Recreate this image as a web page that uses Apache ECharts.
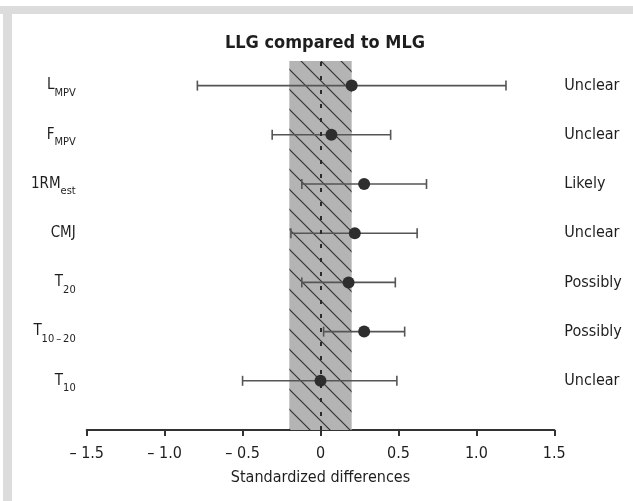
<!DOCTYPE html>
<html>
<head>
<meta charset="utf-8">
<title>LLG compared to MLG</title>
<script src="https://cdn.jsdelivr.net/npm/echarts@6/dist/echarts.min.js"></script>
<style>
    html, body { margin: 0; padding: 0; background: #fff; }
    #chart { width: 633px; height: 501px; }
</style>
</head>
<body>
<div id="chart"></div>
<script>
// Chart data
// ------------------------------

var rowNames = ['L', 'F', '1RM', 'CMJ', 'T', 'T', 'T'];
var rowSubs = ['MPV', 'MPV', 'est', '', '20', '10\u2009\u2013\u200920', '10'];
var ratings = ['Unclear', 'Unclear', 'Likely', 'Unclear', 'Possibly', 'Possibly', 'Unclear'];
var estimates = [0.20, 0.07, 0.28, 0.22, 0.18, 0.28, 0.00];
var lowerLimits = [-0.79, -0.31, -0.12, -0.19, -0.12, 0.02, -0.50];
var upperLimits = [1.19, 0.45, 0.68, 0.62, 0.48, 0.54, 0.49];
var trivialBand = [-0.2, 0.2];
var xTickLabels = ['\u2013 1.5', '\u2013 1.0', '\u2013 0.5', '0', '0.5', '1.0', '1.5'];

var FONT = "'Liberation Sans Narrow', 'DejaVu Sans Condensed', 'Liberation Sans', sans-serif";
var TEXT = '#1e1e1e';
var ROWS = rowNames.length;

// Hatched grey fill for the trivial band
function hatchPattern() {
    var s = 20;
    var c = document.createElement('canvas');
    c.width = s;
    c.height = s;
    var ctx = c.getContext('2d');
    ctx.fillStyle = '#b4b4b4';
    ctx.fillRect(0, 0, s, s);
    ctx.strokeStyle = '#333';
    ctx.lineWidth = 1.2;
    [-s, 0, s].forEach(function(k) {
        ctx.beginPath();
        ctx.moveTo(-2, -2 + k);
        ctx.lineTo(s + 2, s + 2 + k);
        ctx.stroke();
    });
    return { image: c, repeat: 'repeat' };
}

// row index 0 is at the top (y = ROWS), last row at y = 1
function rowY(i) { return ROWS - i; }

var barData = lowerLimits.map(function(lo, i) { return [lo, upperLimits[i], rowY(i)]; });
var dotData = estimates.map(function(v, i) { return [v, rowY(i)]; });

var chart = echarts.init(document.getElementById('chart'), null, { renderer: 'canvas' });

var option = {
    animation: false,
    textStyle: { fontFamily: FONT },
    graphic: [
        { type: 'rect', shape: { x: 0, y: 6, width: 633, height: 8 }, style: { fill: '#dcdcdc' }, silent: true },
        { type: 'rect', shape: { x: 3, y: 6, width: 9, height: 495 }, style: { fill: '#dcdcdc' }, silent: true }
    ],
    title: {
        text: 'LLG compared to MLG',
        left: 320,
        textAlign: 'center',
        top: 29,
        textStyle: { fontFamily: FONT, fontSize: 18, fontWeight: 'bold', color: TEXT }
    },
    grid: { left: 86.7, right: 78.7, top: 61, bottom: 71 },
    xAxis: {
        type: 'value',
        min: -1.5,
        max: 1.5,
        interval: 0.5,
        name: 'Standardized differences',
        nameLocation: 'middle',
        nameGap: 40,
        nameTextStyle: { fontFamily: FONT, fontSize: 16, color: TEXT },
        axisLine: { show: true, lineStyle: { color: '#333', width: 2 } },
        axisTick: { show: true, length: 6, lineStyle: { color: '#333', width: 2 } },
        axisLabel: {
            margin: 16,
            fontFamily: FONT,
            fontSize: 16,
            color: TEXT,
            formatter: function(v) {
                return xTickLabels[Math.round((v + 1.5) / 0.5)];
            }
        },
        splitLine: { show: false }
    },
    yAxis: [{
        type: 'value',
        min: 0,
        max: ROWS + 0.5,
        interval: 0.5,
        position: 'left',
        axisLine: { show: false },
        axisTick: { show: false },
        splitLine: { show: false },
        axisLabel: {
            margin: 11,
            formatter: function(v) {
                var i = ROWS - v;
                if (v < 1 || v !== Math.round(v)) return '';
                return rowSubs[i] ? '{m|' + rowNames[i] + '}{s|' + rowSubs[i] + '}' : '{m|' + rowNames[i] + '}';
            },
            rich: {
                m: { fontFamily: FONT, fontSize: 15, color: TEXT, lineHeight: 26, verticalAlign: 'middle' },
                s: { fontFamily: FONT, fontSize: 11, color: TEXT, lineHeight: 11, verticalAlign: 'bottom' }
            }
        }
    }, {
        type: 'value',
        min: 0,
        max: ROWS + 0.5,
        interval: 0.5,
        position: 'right',
        axisLine: { show: false },
        axisTick: { show: false },
        splitLine: { show: false },
        axisLabel: {
            margin: 10,
            fontFamily: FONT,
            fontSize: 16,
            color: TEXT,
            formatter: function(v) {
                if (v < 1 || v !== Math.round(v)) return '';
                return ratings[ROWS - v];
            }
        }
    }],
    series: [{
        // trivial band with the zero line
        type: 'custom',
        z: 1,
        data: [[trivialBand[0], trivialBand[1]]],
        renderItem: function(params, api) {
            var p0 = api.coord([api.value(0), ROWS + 0.5]);
            var p1 = api.coord([api.value(1), 0]);
            return {
                type: 'rect',
                shape: { x: p0[0], y: p0[1], width: p1[0] - p0[0], height: p1[1] - p0[1] },
                style: { fill: hatchPattern() }
            };
        },
        markLine: {
            silent: true,
            symbol: 'none',
            label: { show: false },
            lineStyle: { color: '#2a2a2a', width: 2, type: [4, 10] },
            data: [{ xAxis: 0 }]
        }
    }, {
        // confidence limits
        type: 'custom',
        z: 3,
        data: barData,
        renderItem: function(params, api) {
            var a = api.coord([api.value(0), api.value(2)]);
            var b = api.coord([api.value(1), api.value(2)]);
            var h = 5;
            var st = { stroke: '#555', lineWidth: 1.6 };
            return {
                type: 'group',
                children: [
                    { type: 'line', shape: { x1: a[0], y1: a[1], x2: b[0], y2: b[1] }, style: st },
                    { type: 'line', shape: { x1: a[0], y1: a[1] - h, x2: a[0], y2: a[1] + h }, style: st },
                    { type: 'line', shape: { x1: b[0], y1: b[1] - h, x2: b[0], y2: b[1] + h }, style: st }
                ]
            };
        }
    }, {
        type: 'scatter',
        z: 4,
        symbol: 'circle',
        symbolSize: 12,
        itemStyle: { color: '#2e2e2e', opacity: 1 },
        data: dotData
    }]
};

chart.setOption(option);
</script>
</body>
</html>
